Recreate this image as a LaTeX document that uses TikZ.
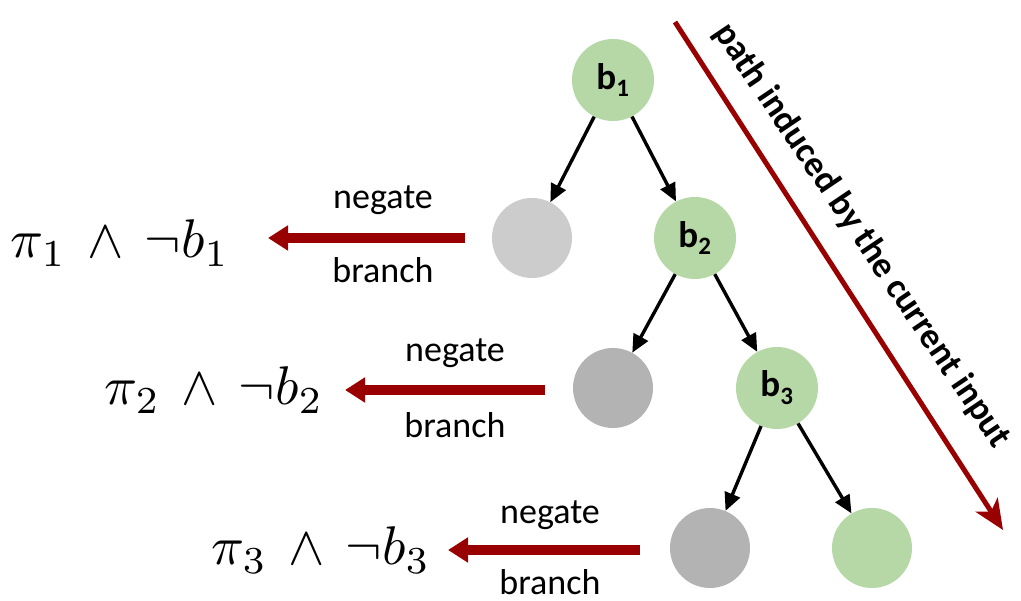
\documentclass[tikz,border=0pt]{standalone}
\usepackage{fontspec}
\setmainfont{Carlito}
\usetikzlibrary{arrows.meta}
\definecolor{lgreen}{HTML}{B5D8A6}
\definecolor{lgray}{HTML}{CCCCCC}
\definecolor{mgray}{HTML}{B3B3B3}
\definecolor{dred}{HTML}{990000}
\tikzset{
  gnode/.style={circle,fill=lgreen,minimum size=82pt,inner sep=0pt,font=\fontsize{37}{40}\selectfont\bfseries},
  g1node/.style={circle,fill=lgray,minimum size=80pt,inner sep=0pt},
  g2node/.style={circle,fill=mgray,minimum size=80pt,inner sep=0pt},
  edge/.style={line width=3.4pt,-{Triangle[length=18pt,width=16pt]}},
  negarrow/.style={line width=10pt,draw=dred,-{Triangle[length=20pt,width=24pt]}},
  lbl/.style={font=\fontsize{36}{40}\selectfont,inner sep=0pt},
  mth/.style={scale=5.45,inner sep=0pt},
}
\newcommand{\nb}[1]{b\textsubscript{\fontsize{25}{27}\selectfont #1}}
\begin{document}
\begin{tikzpicture}[x=1pt,y=-1pt]
\useasboundingbox (0,0) rectangle (1021,601);
% tree nodes
\node[gnode] (b1) at (613,80) {\nb{1}};
\node[g1node] (n1) at (532,238) {};
\node[gnode] (b2) at (695,238) {\nb{2}};
\node[g2node] (n2) at (613,388) {};
\node[gnode] (b3) at (777,388) {\nb{3}};
\node[g2node] (n3) at (710,548) {};
\node[gnode,minimum size=80pt] (leaf) at (872,548) {};
% edges
\draw[edge] (b1) -- (n1);
\draw[edge] (b1) -- (b2);
\draw[edge] (b2) -- (n2);
\draw[edge] (b2) -- (b3);
\draw[edge] (b3) -- (n3);
\draw[edge] (b3) -- (leaf);
% negate arrows
\coordinate (s1) at (465,238); \coordinate (e1) at (268,238);
\coordinate (s2) at (545,390); \coordinate (e2) at (345,390);
\coordinate (s3) at (640,550); \coordinate (e3) at (448,550);
\draw[negarrow] (s1) -- (e1);
\draw[negarrow] (s2) -- (e2);
\draw[negarrow] (s3) -- (e3);
\node[lbl] (ng1) at (383,200) {negate};
\node[lbl] (br1) at (383,270) {branch};
\node[lbl] (ng2) at (455,353) {negate};
\node[lbl] (br2) at (455,425) {branch};
\node[lbl] (ng3) at (550,515) {negate};
\node[lbl] (br3) at (550,582) {branch};
% formulas
\node[mth] (f1) at (120,243) {$\pi_1 \,\wedge\, \neg b_1$};
\node[mth] (f2) at (214,390) {$\pi_2 \,\wedge\, \neg b_2$};
\node[mth] (f3) at (321,550) {$\pi_3 \,\wedge\, \neg b_3$};
% path arrow
\coordinate (p0) at (675,22);
\coordinate (p1) at (1003,530);
\draw[line width=5pt,draw=dred,-{Stealth[length=30pt,width=26pt,inset=8pt]}] (p0) -- (p1);
\node[rotate=-56,font=\fontsize{36}{40}\selectfont\bfseries] (pt) at (862,236) {path induced by the current input};
\end{tikzpicture}
\end{document}
